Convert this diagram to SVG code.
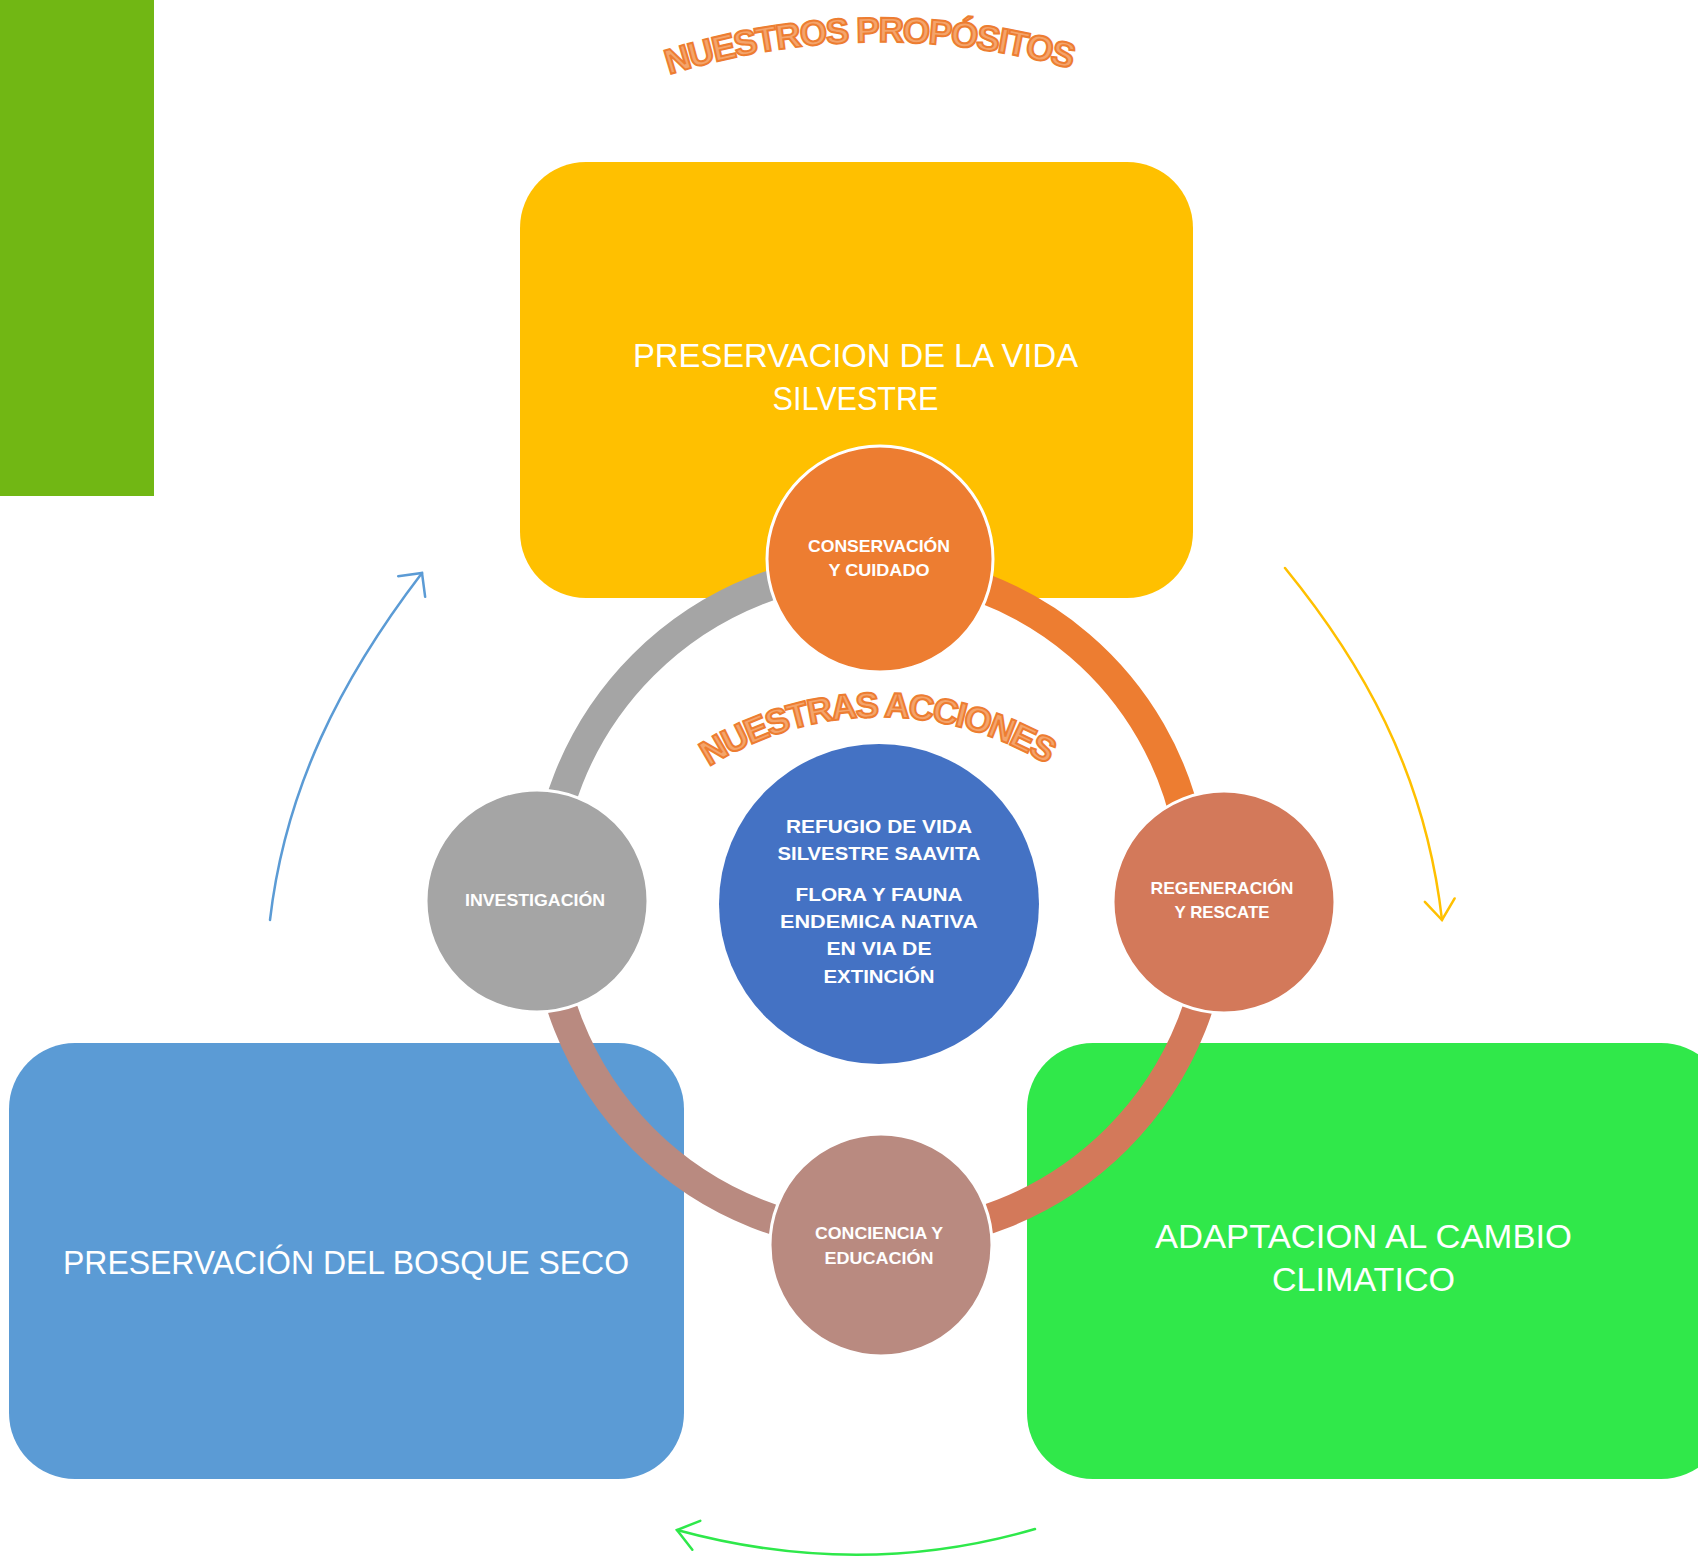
<svg xmlns="http://www.w3.org/2000/svg" width="1698" height="1557" viewBox="0 0 1698 1557">
<defs>
<style>
.big{font-family:"Liberation Sans",Arial,sans-serif;font-size:32.5px;fill:#fff;text-anchor:middle}
.small{font-family:"Liberation Sans",Arial,sans-serif;font-size:17px;font-weight:bold;fill:#fff;text-anchor:middle}
.mid{font-family:"Liberation Sans",Arial,sans-serif;font-size:19px;font-weight:bold;fill:#fff;text-anchor:middle}
.warc{font-family:"Liberation Sans",Arial,sans-serif;font-weight:bold;fill:#F4A46B;stroke:#ED7D31;stroke-width:2;text-anchor:middle}
.ring{fill:none;stroke-width:30}
.node{stroke:#fff;stroke-width:3}
.conn{fill:none;stroke-width:2.5;stroke-linecap:round}
</style>
<path id="titlePath" d="M432.6,204.8 A696,696 0 0 1 1327.4,204.8"/>
<path id="accPath" d="M603.7,876.5 A319,319 0 0 1 1156.3,876.5"/>
<marker id="mBlue" markerUnits="userSpaceOnUse" viewBox="-22 -20 26 40" markerWidth="26" markerHeight="40" refX="0" refY="0" orient="auto" overflow="visible"><path d="M-17,-17 L0,0 L-17,17" fill="none" stroke="#5B9BD5" stroke-width="2.5" stroke-linecap="round"/></marker>
<marker id="mYellow" markerUnits="userSpaceOnUse" viewBox="-22 -20 26 40" markerWidth="26" markerHeight="40" refX="0" refY="0" orient="auto" overflow="visible"><path d="M-20,-15 L0,0 L-20,15" fill="none" stroke="#FFC000" stroke-width="2.5" stroke-linecap="round"/></marker>
<marker id="mGreen" markerUnits="userSpaceOnUse" viewBox="-22 -20 26 40" markerWidth="26" markerHeight="40" refX="0" refY="0" orient="auto" overflow="visible"><path d="M-20,-15 L0,0 L-20,15" fill="none" stroke="#2EE84A" stroke-width="2.5" stroke-linecap="round"/></marker>
</defs>
<rect width="1698" height="1557" fill="#fff"/>
<rect x="0" y="0" width="154" height="496" fill="#71B714"/>

<text class="warc" font-size="35" letter-spacing="-1.5"><textPath href="#titlePath" startOffset="475">NUESTROS PROPÓSITOS</textPath></text>

<g id="box-vida">
<rect x="520" y="162" width="673" height="436" rx="66" fill="#FFC000"/>
<text class="big" x="855.5" y="367" textLength="445" lengthAdjust="spacingAndGlyphs">PRESERVACION DE LA VIDA</text>
<text class="big" x="855.5" y="410" textLength="166" lengthAdjust="spacingAndGlyphs">SILVESTRE</text>
</g>
<g id="box-bosque">
<rect x="9" y="1043" width="675" height="436" rx="66" fill="#5B9BD5"/>
<text class="big" x="346" y="1274" textLength="566" lengthAdjust="spacingAndGlyphs">PRESERVACIÓN DEL BOSQUE SECO</text>
</g>
<g id="box-clima">
<rect x="1027" y="1043" width="700" height="436" rx="66" fill="#30E84A"/>
<text class="big" x="1363.5" y="1248" textLength="417" lengthAdjust="spacingAndGlyphs">ADAPTACION AL CAMBIO</text>
<text class="big" x="1363.5" y="1291" textLength="183" lengthAdjust="spacingAndGlyphs">CLIMATICO</text>
</g>

<g id="connectors">
<path class="ring" stroke="#A5A5A5" d="M545,902 A335,335 0 0 1 880,567"/>
<path class="ring" stroke="#ED7D31" d="M880,567 A328,328 0 0 1 1188,830"/>
<path class="ring" stroke="#D3795A" d="M1215,902 A335,335 0 0 1 880,1237"/>
<path class="ring" stroke="#B98A80" d="M880,1237 A335,335 0 0 1 545,902"/>
<path class="conn" stroke="#5B9BD5" d="M270,920 C285,790 340,680 422,573" marker-end="url(#mBlue)"/>
<path class="conn" stroke="#FFC000" d="M1285,568 C1360,660 1425,770 1442,920" marker-end="url(#mYellow)"/>
<path class="conn" stroke="#2EE84A" d="M1035,1529 Q860,1580 677,1530" marker-end="url(#mGreen)"/>
</g>

<g id="node-conservacion">
<circle class="node" cx="880" cy="559" r="113" fill="#ED7D31"/>
<text class="small" x="879" y="552" textLength="142" lengthAdjust="spacingAndGlyphs">CONSERVACIÓN</text>
<text class="small" x="879" y="576" textLength="101" lengthAdjust="spacingAndGlyphs">Y CUIDADO</text>
</g>
<g id="node-investigacion">
<circle class="node" cx="537" cy="901" r="111" fill="#A5A5A5"/>
<text class="small" x="535" y="906" textLength="140" lengthAdjust="spacingAndGlyphs">INVESTIGACIÓN</text>
</g>
<g id="node-regeneracion">
<circle class="node" cx="1224" cy="902" r="111" fill="#D3795A"/>
<text class="small" x="1222" y="894" textLength="143" lengthAdjust="spacingAndGlyphs">REGENERACIÓN</text>
<text class="small" x="1222" y="918" textLength="95" lengthAdjust="spacingAndGlyphs">Y RESCATE</text>
</g>
<g id="node-conciencia">
<circle class="node" cx="881" cy="1245" r="111" fill="#B98A80"/>
<text class="small" x="879" y="1239" textLength="128" lengthAdjust="spacingAndGlyphs">CONCIENCIA Y</text>
<text class="small" x="879" y="1264" textLength="109" lengthAdjust="spacingAndGlyphs">EDUCACIÓN</text>
</g>

<text class="warc" font-size="35" letter-spacing="-1.8"><textPath href="#accPath" startOffset="331">NUESTRAS ACCIONES</textPath></text>

<g id="node-refugio">
<circle cx="879" cy="904" r="160" fill="#4472C4"/>
<text class="mid" x="879" y="833" textLength="186" lengthAdjust="spacingAndGlyphs">REFUGIO DE VIDA</text>
<text class="mid" x="879" y="860" textLength="203" lengthAdjust="spacingAndGlyphs">SILVESTRE SAAVITA</text>
<text class="mid" x="879" y="901" textLength="167" lengthAdjust="spacingAndGlyphs">FLORA Y FAUNA</text>
<text class="mid" x="879" y="928" textLength="198" lengthAdjust="spacingAndGlyphs">ENDEMICA NATIVA</text>
<text class="mid" x="879" y="955" textLength="105" lengthAdjust="spacingAndGlyphs">EN VIA DE</text>
<text class="mid" x="879" y="983" textLength="111" lengthAdjust="spacingAndGlyphs">EXTINCIÓN</text>
</g>
</svg>
